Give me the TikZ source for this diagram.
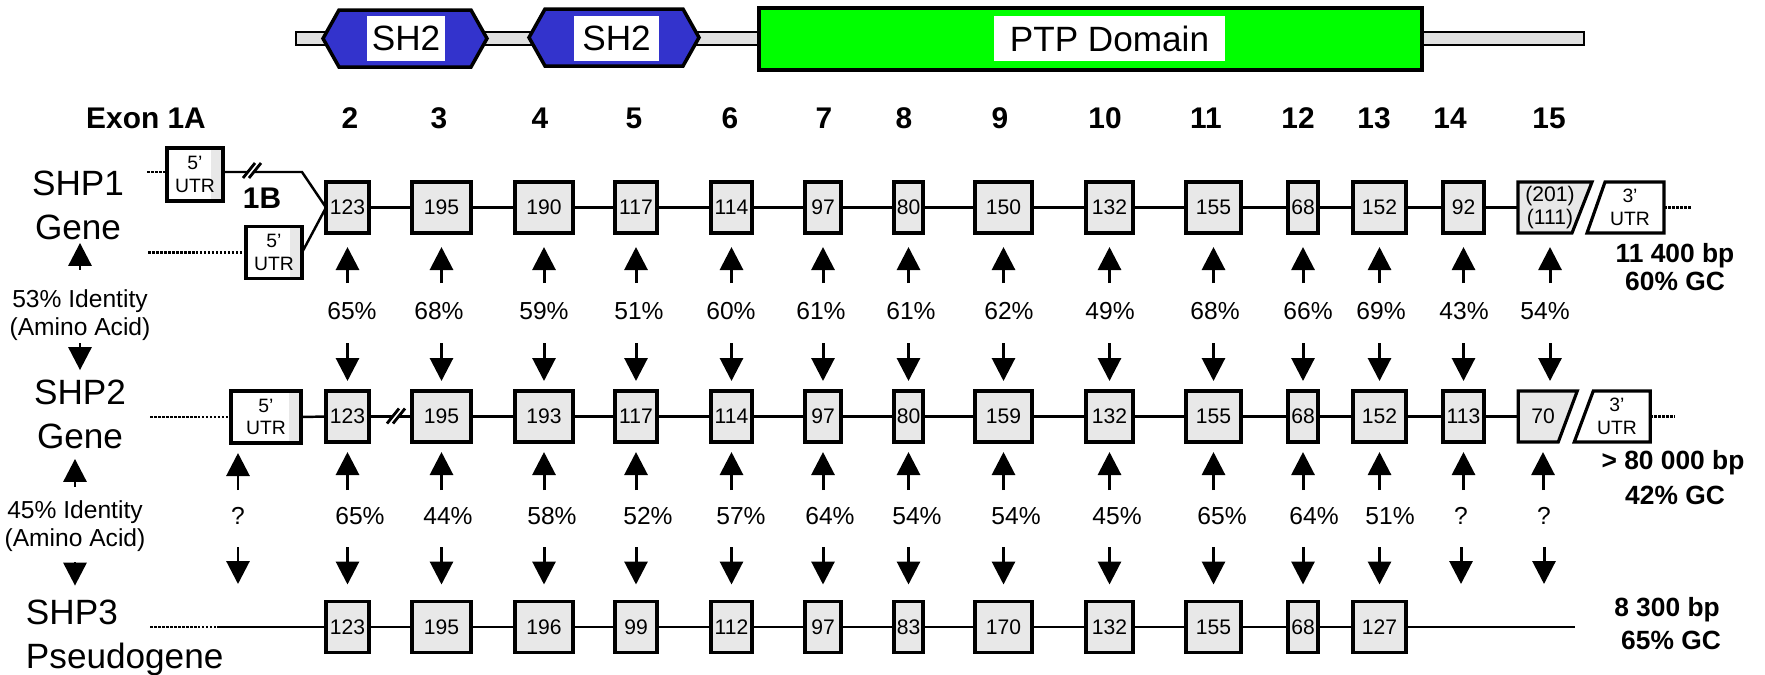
\documentclass[tikz,border=0pt]{standalone}
\usepackage{fontspec}
\setmainfont{Liberation Sans}
\usetikzlibrary{arrows.meta,backgrounds}
\definecolor{sh2blue}{RGB}{51,51,204}
\definecolor{ptpgreen}{RGB}{0,255,0}

\begin{document}
\begin{tikzpicture}[x=0.1mm, y=-0.1mm,
    every node/.style={inner sep=0pt, outer sep=0pt},
    exon/.style={draw, line width=0.9pt, fill=black!9, minimum height=5.1mm, align=center, font=\fontsize{6}{6.2}\selectfont},
    utr/.style={draw, line width=0.9pt, fill=white, minimum height=5.2mm, align=center, font=\fontsize{5.5}{6.5}\selectfont,
        path picture={\fill[black!9] ([xshift=-1.2mm]path picture bounding box.north east) rectangle (path picture bounding box.south east);}},
    slant/.style={minimum height=5.1mm, align=center},
    lbox/.style={fill=white, minimum height=4.5mm, font=\fontsize{10}{10}\selectfont},
    exnum/.style={font=\bfseries\fontsize{8.5}{8.5}\selectfont},
    pct/.style={font=\fontsize{7}{7}\selectfont, text height=1.8mm, text depth=0pt},
    gene/.style={font=\fontsize{10}{12.5}\selectfont, align=center},
    idt/.style={font=\fontsize{7}{8}\selectfont, align=center},
    bpinfo/.style={font=\bfseries\fontsize{7.5}{7.5}\selectfont},
    intron/.style={line width=0.7pt},
    dots/.style={line width=0.25mm, dash pattern=on 0.25mm off 0.15mm},
    arr/.style={-{Triangle[length=2.3mm, width=2.3mm]}, line width=0.85pt},
    up1/.style={arr, shorten <=1.8mm, shorten >=1.4mm},
    dn1/.style={arr, shorten <=2.4mm, shorten >=1mm},
    up2/.style={arr, shorten <=1.6mm, shorten >=1mm},
    dn2/.style={arr, shorten <=2.3mm, shorten >=1.7mm}]
    \useasboundingbox (0,0) rectangle (1765,674);

    % Protein
    \draw[fill=black!12, line width=0.6pt] (296,32) rectangle (1584,45);
    \draw[fill=sh2blue, line width=1pt] (323,38.5) -- (339,10) -- (471,10) -- (487,38.5) -- (471,67) -- (339,67) -- cycle;
    \draw[fill=sh2blue, line width=1pt] (529,37.5) -- (545,9) -- (683,9) -- (699,37.5) -- (683,66) -- (545,66) -- cycle;
    \draw[fill=ptpgreen, line width=1pt] (759,8) rectangle (1422,70);
    \node[lbox, minimum width=7.8mm] (sh2a) at (406,38.5) {SH2};
    \node[lbox, minimum width=8.5mm] (sh2b) at (616.5,38.5) {SH2};
    \node[lbox, minimum width=23.1mm] (ptp) at (1109.5,38.5) {PTP Domain};

    % Exon numbers
    \node[exnum] (x1) at (146,118) {Exon 1A};
    \foreach \n/\x in {2/350,3/439,4/540,5/634,6/730,7/824,8/904,9/1000,10/1105,11/1206,12/1298,13/1374,14/1450,15/1549}
        \node[exnum] (x\n) at (\x,118) {\n};

    % Gene names
    \node[gene] (g1) at (78,205) {SHP1\\Gene};
    \node[idt] (id1) at (80,315.5) {53\% Identity\\(Amino Acid)};
    \node[gene] (g2) at (80,414) {SHP2\\Gene};
    \node[idt] (id2) at (75,526.5) {45\% Identity\\(Amino Acid)};
    \node[gene, align=left, anchor=west] (g3) at (26,638) {SHP3\\Pseudogene};

    % Exons 2-14
    \foreach \n/\x/\w/\la/\lb/\lc in {2/347.5/4.3mm/123/123/123, 3/441.5/5.9mm/195/195/195, 4/544/5.8mm/190/193/196,
        5/636/4.2mm/117/117/99, 6/731.5/4.1mm/114/114/112, 7/823/3.6mm/97/97/97, 8/908.5/2.9mm/80/80/83,
        9/1003.5/5.7mm/150/159/170, 10/1109.5/4.7mm/132/132/132, 11/1213.5/5.5mm/155/155/155,
        12/1303/3.0mm/68/68/68, 13/1379.5/5.3mm/152/152/127} {
        \node[exon, minimum width=\w] (a\n) at (\x,207.5) {\la};
        \node[exon, minimum width=\w] (b\n) at (\x,416.5) {\lb};
        \node[exon, minimum width=\w] (c\n) at (\x,627) {\lc};
    }
    \node[exon, minimum width=4.1mm] (a14) at (1463.5,207.5) {92};
    \node[exon, minimum width=4.1mm] (b14) at (1463.5,416.5) {113};

    % SHP1 ends
    \node[utr, minimum width=5.6mm, minimum height=5.3mm] (u1a) at (195,174.5) {5’\\UTR};
    \node[utr, minimum width=5.6mm] (u1b) at (274,252.5) {5’\\UTR};
    \node[exnum] (l1b) at (262,198) {1B};
    \node[slant, minimum width=6.4mm, font=\fontsize{6}{6.6}\selectfont] (a15) at (1550,207.5) {(201)\\(111)};
    \node[slant, minimum width=6.8mm, font=\fontsize{5.5}{6.5}\selectfont] (v1) at (1630,207.5) {3’\\UTR};
    \coordinate (d1a) at (147,172);
    \coordinate (d1b) at (148,252.5);
    \coordinate (k1) at (302,172);
    \coordinate (e1) at (1691,207.5);

    % SHP2 ends
    \node[utr, minimum width=7mm] (u2) at (266,417) {5’\\UTR};
    \node[slant, minimum width=4.95mm, font=\fontsize{6}{6.2}\selectfont] (b15) at (1543,416.5) {70};
    \node[slant, minimum width=6.65mm, font=\fontsize{5.5}{6.5}\selectfont] (v2) at (1617,416.5) {3’\\UTR};
    \coordinate (d2) at (150,417);
    \coordinate (e2) at (1675,416.5);

    % SHP3 ends
    \coordinate (d3) at (150,627);
    \coordinate (k3) at (217,627);
    \coordinate (e3) at (1575,627);
    \coordinate (top3) at (217,601);

    \begin{scope}[on background layer]
        \draw[line width=0.9pt, fill=black!9] (a15.north west) -- ([xshift=1mm]a15.north east) -- ([xshift=-1mm]a15.south east) -- (a15.south west) -- cycle;
        \draw[line width=0.9pt, fill=white] ([xshift=0.9mm]v1.north west) -- (v1.north east) -- (v1.south east) -- ([xshift=-0.9mm]v1.south west) -- cycle;
        \draw[line width=0.9pt, fill=black!9] (b15.north west) -- ([xshift=0.95mm]b15.north east) -- ([xshift=-0.95mm]b15.south east) -- (b15.south west) -- cycle;
        \draw[line width=0.9pt, fill=white] ([xshift=0.95mm]v2.north west) -- (v2.north east) -- (v2.south east) -- ([xshift=-0.95mm]v2.south west) -- cycle;
    \end{scope}

    % Introns
    \draw[dots] (d1a) -- (d1a -| u1a.west);
    \draw[dots] (d1b) -- (u1b.west);
    \draw[intron] (k1 -| u1a.east) -- (k1) -- (a2.west);
    \draw[intron] (u1b.east) -- (a2.west);
    \draw[dots] (v1.east) -- (e1);
    \draw[dots] (d2) -- (u2.west);
    \draw[intron] (u2.east) -- (b2.west);
    \draw[dots] (v2.east) -- (e2);
    \draw[dots] (d3) -- (k3);
    \draw[intron] (k3) -- (c2.west);
    \draw[intron] (c13.east) -- (e3);
    \foreach \i/\j in {2/3,3/4,4/5,5/6,6/7,7/8,8/9,9/10,10/11,11/12,12/13,13/14,14/15} {
        \draw[intron] (a\i.east) -- (a\j.west);
        \draw[intron] (b\i.east) -- (b\j.west);
    }
    \foreach \i/\j in {2/3,3/4,4/5,5/6,6/7,7/8,8/9,9/10,10/11,11/12,12/13}
        \draw[intron] (c\i.east) -- (c\j.west);
    \foreach \cx/\cy in {252/171, 396/416.5} {
        \fill[white] (\cx-9,\cy+7) -- (\cx+3,\cy-8) -- (\cx+9,\cy-8) -- (\cx-3,\cy+7) -- cycle;
        \draw[line width=0.8pt] (\cx-9,\cy+7) -- (\cx+3,\cy-8) (\cx-3,\cy+7) -- (\cx+9,\cy-8);
    }

    % Identities
    \foreach \n/\x/\t in {2/352/65\%, 3/439/68\%, 4/544/59\%, 5/639/51\%, 6/731/60\%, 7/821/61\%, 8/911/61\%,
        9/1009/62\%, 10/1110/49\%, 11/1215/68\%, 12/1308/66\%, 13/1381/69\%, 14/1464/43\%, 15/1545/54\%}
        \node[pct] (p\n) at (\x,310) {\t};
    \foreach \n/\x/\t in {1/238/?, 2/360/65\%, 3/448/44\%, 4/552/58\%, 5/648/52\%, 6/741/57\%, 7/830/64\%, 8/917/54\%,
        9/1016/54\%, 10/1117/45\%, 11/1222/65\%, 12/1314/64\%, 13/1390/51\%, 14/1461/?, 15/1544/?}
        \node[pct] (q\n) at (\x,515) {\t};
    \foreach \n in {2,...,15} {
        \draw[up1] (a\n.south |- p\n.north) -- (a\n.south);
        \draw[dn1] (a\n.south |- p\n.south) -- (a\n.south |- b\n.north);
        \draw[up2] (b\n.south |- q\n.north) -- (b\n.south);
    }
    \foreach \n in {2,...,13}
        \draw[dn2] (c\n.north |- q\n.south) -- (c\n.north);
    \foreach \n in {1,14,15}
        \draw[dn2] (q\n.south) -- (q\n.south |- top3);
    \draw[up2] (q1.north) -- (q1.north |- u2.south);
    \draw[arr, shorten <=2mm, shorten >=0.35mm] (id1.north) -- (id1.north |- g1.south);
    \draw[arr, shorten <=0.2mm, shorten >=0.95mm] (id1.south) -- (id1.south |- g2.north);
    \draw[arr, shorten <=1.4mm, shorten >=1.05mm] (id2.north) -- (id2.north |- g2.south);
    \draw[arr, shorten <=1mm, shorten >=1.45mm] (id2.south) -- (id2.south |- g3.north);

    % Gene sizes
    \node[bpinfo] (bp1) at (1675,256) {11 400 bp};
    \node[bpinfo] (gc1) at (1675,281) {60\% GC};
    \node[bpinfo] (bp2) at (1673,463) {> 80 000 bp};
    \node[bpinfo] (gc2) at (1675,495) {42\% GC};
    \node[bpinfo] (bp3) at (1667,610) {8 300 bp};
    \node[bpinfo] (gc3) at (1671,640) {65\% GC};

\end{tikzpicture}
\end{document}
